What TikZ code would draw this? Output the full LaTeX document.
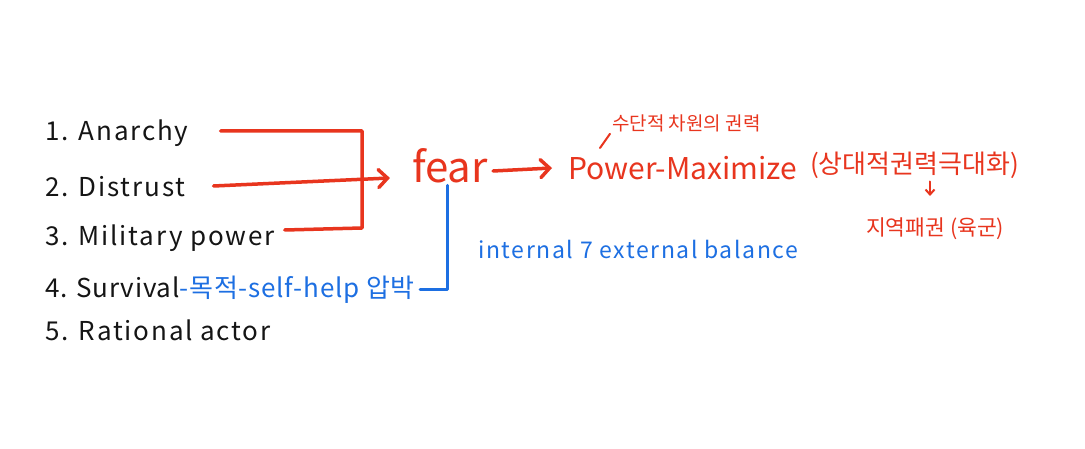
\documentclass[tikz,border=0pt]{standalone}
\usepackage{fontspec}
\usepackage{tikz}
\usetikzlibrary{arrows.meta,positioning,calc}
\newfontfamily\krfont{Noto Sans CJK KR}
\newfontfamily\krwide{Noto Sans CJK KR}[LetterSpace=7]
\newfontfamily\krmid{Noto Sans CJK KR}[LetterSpace=3]
\definecolor{inkBlack}{HTML}{151515}
\definecolor{inkRed}{HTML}{E8351E}
\definecolor{inkBlue}{HTML}{1D6FE2}
\tikzset{
  itemText/.style={
    anchor=west,
    inner sep=0pt,
    text=inkBlack,
    font=\krwide\fontsize{26}{31}\selectfont
  },
  redText/.style={
    anchor=west,
    inner sep=0pt,
    text=inkRed,
    font=\krfont\fontsize{30}{36}\selectfont
  },
  redNote/.style={
    redText,
    font=\krfont\fontsize{19}{24}\selectfont
  },
  blueText/.style={
    anchor=west,
    inner sep=0pt,
    text=inkBlue,
    font=\krwide\fontsize{23}{28}\selectfont
  },
  redLine/.style={
    draw=inkRed,
    line width=3.5pt,
    line cap=round,
    line join=round
  },
  redArrow/.style={
    redLine,
    -{Straight Barb[length=9pt,width=18pt,line cap=round]}
  },
  redThin/.style={
    draw=inkRed,
    line width=2pt,
    line cap=round
  },
  blueLine/.style={
    draw=inkBlue,
    line width=3pt,
    line cap=round,
    line join=round
  }
}
\begin{document}
\begin{tikzpicture}[x=1pt,y=-1pt]
  \useasboundingbox[fill=white] (0,0) rectangle (1085,449);

  % assumptions
  \node[itemText] (anarchy) at (45,133) {1. Anarchy};
  \node[itemText] (distrust) at (45,187) {2. Distrust};
  \node[itemText] (military) at (45,238) {3. Military power};
  \node[itemText, font=\krmid\fontsize{26}{31}\selectfont] (survival) at (45,290) {4. Survival{\color{inkBlue}-목적-self-help 압박}};
  \node[itemText] (rational) at (45,330) {5. Rational actor};

  % main chain
  \node[redText, anchor=center, font=\krfont\fontsize{42}{48}\selectfont] (fear) at (450,166) {fear};
  \node[redText] (powermax) at (568,168) {Power-Maximize};
  \node[redNote] (instr) at (612,123) {수단적 차원의 권력};
  \node[redNote, font=\krfont\fontsize{26}{31}\selectfont] (relmax) at (810,165) {(상대적권력극대화)};
  \node[redNote, font=\krfont\fontsize{21.5}{26}\selectfont] (hegemony) at (866,229) {지역패권 (육군)};
  \node[blueText] (balance) at (478,249) {internal 7 external balance};

  \coordinate (merge) at (362,180);
  \coordinate (slashfoot) at (600,148);
  \coordinate (downtip) at (930,196);

  \draw[redLine] ($(anarchy.east)+(32,-2)$) -- ($(anarchy.east -| merge)+(0,-2)$)
    -- ($(military.east -| merge)+(0,-10)$) -- ($(military.east)+(10,-8)$);
  \draw[redArrow] ($(distrust.east)+(28,-1)$) -- ($(fear.west)+(-22,12)$);
  \draw[redArrow] ([xshift=5pt,yshift=-5pt]fear.east) -- ([xshift=-16pt]powermax.west);
  \draw[redThin] (slashfoot) -- ($(instr.south west)+(-2,2)$);
  \draw[redThin, -{Straight Barb[length=5pt,width=9pt]}] ([yshift=-3pt]relmax.south -| downtip)
    -- (downtip);

  \draw[blueLine] ([yshift=-2pt]fear.south -| 447,0) -- (survival.east -| 447,0)
    -- ([xshift=5pt]survival.east);
\end{tikzpicture}
\end{document}
